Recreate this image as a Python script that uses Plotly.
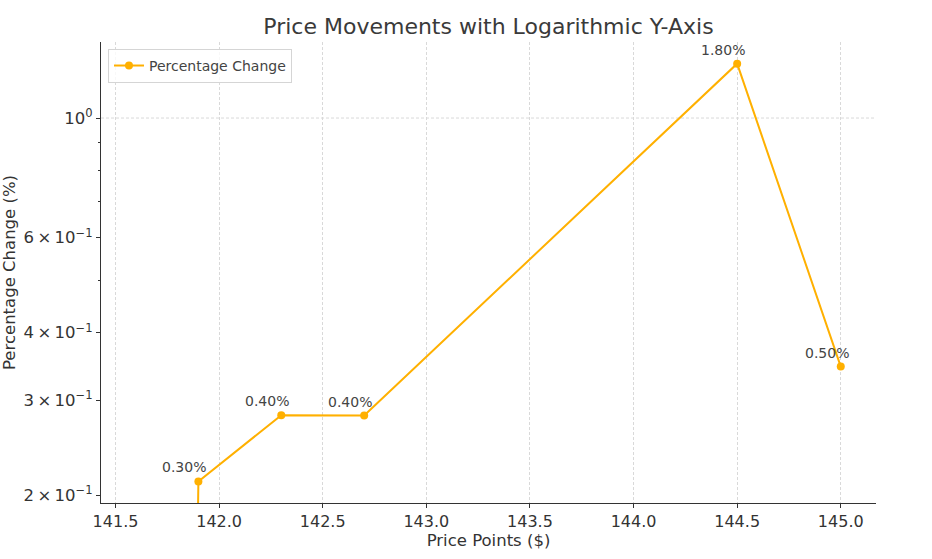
import math
import plotly.graph_objects as go

# Data
price_points = [141.6, 141.9, 142.3, 142.7, 144.5, 145.0]
# first point is a 0% change (off the log axis); a tiny positive stand-in keeps the vertical segment
pct_change = [1e-9, 0.2119, 0.2812, 0.2808, 1.2614, 0.3460]
point_labels = ["", "0.30%", "0.40%", "0.40%", "1.80%", "0.50%"]

y_major_vals = [0.2, 0.3, 0.4, 0.6, 1.0]
y_major_text = ["2\u2009×\u200910<sup>−1</sup>", "3\u2009×\u200910<sup>−1</sup>",
                "4\u2009×\u200910<sup>−1</sup>", "6\u2009×\u200910<sup>−1</sup>",
                "10<sup>0</sup>"]
y_minor_vals = [0.5, 0.7, 0.8, 0.9]
x_tick_vals = [141.5, 142.0, 142.5, 143.0, 143.5, 144.0, 144.5, 145.0]

color = "#FFB000"
font = "DejaVu Sans"
grid = "#d9d9d9"

fig = go.Figure()
fig.add_trace(go.Scatter(
    x=price_points, y=pct_change, mode="lines+markers",
    name="Percentage Change",
    line=dict(color=color, width=2),
    marker=dict(color=color, size=8),
))

for x, y, t in zip(price_points, pct_change, point_labels):
    if t:
        # annotations on a log axis are placed in log10 units
        fig.add_annotation(x=x, y=math.log10(y), text=t, showarrow=False,
                           xanchor="center", yanchor="bottom",
                           xshift=-14, yshift=4,
                           font=dict(family=font, size=14, color="#444444"))

# major horizontal grid line (only at 10^0, as in the reference)
fig.add_shape(type="line", xref="paper", yref="y", x0=0, x1=1, y0=1.0, y1=1.0,
              line=dict(color=grid, width=1, dash="3px,2px"), layer="below")

fig.update_layout(
    width=932, height=559,
    margin=dict(l=101, r=56, t=42, b=56),
    paper_bgcolor="white", plot_bgcolor="white",
    font=dict(family=font, color="#333333"),
    title=dict(text="Price Movements with Logarithmic Y-Axis", xref="paper", x=0.5, xanchor="center",
               y=1 - 26 / 559, yanchor="middle", font=dict(size=22, color="#3a3a3a")),
    showlegend=True,
    legend=dict(x=0.009, y=0.985, xanchor="left", yanchor="top",
                bgcolor="rgba(255,255,255,0.8)", bordercolor="#d5d5d5", borderwidth=1,
                itemwidth=30,
                font=dict(size=14, color="#444444")),
)

fig.update_xaxes(
    range=[141.43, 145.17], tickvals=x_tick_vals, ticktext=[f"{v:.1f}" for v in x_tick_vals],
    showgrid=True, gridcolor=grid, griddash="3px,2px", gridwidth=1,
    showline=True, linecolor="#333333", linewidth=1.3,
    ticks="outside", ticklen=4, tickcolor="#333333",
    tickfont=dict(size=16, color="#333333"), zeroline=False,
    title=dict(text="Price Points ($)", font=dict(size=16.5, color="#333333"), standoff=4),
)
fig.update_yaxes(
    type="log", range=[-0.7138, 0.141], automargin=False,
    tickmode="array", tickvals=y_major_vals, ticktext=y_major_text,
    showgrid=False,
    showline=True, linecolor="#333333", linewidth=1.3,
    ticks="outside", ticklen=4, tickcolor="#333333",
    tickfont=dict(size=16.5, color="#333333"), zeroline=False,
    minor=dict(tickmode="array", tickvals=y_minor_vals, ticks="outside", ticklen=2,
               tickcolor="#333333", showgrid=False),
    title=dict(text="Percentage Change (%)", font=dict(size=16.5, color="#333333"), standoff=4),
)

fig.write_html("out.html", config={"displayModeBar": False},
               post_script="document.body.style.margin='0';document.body.style.overflow='hidden';")
